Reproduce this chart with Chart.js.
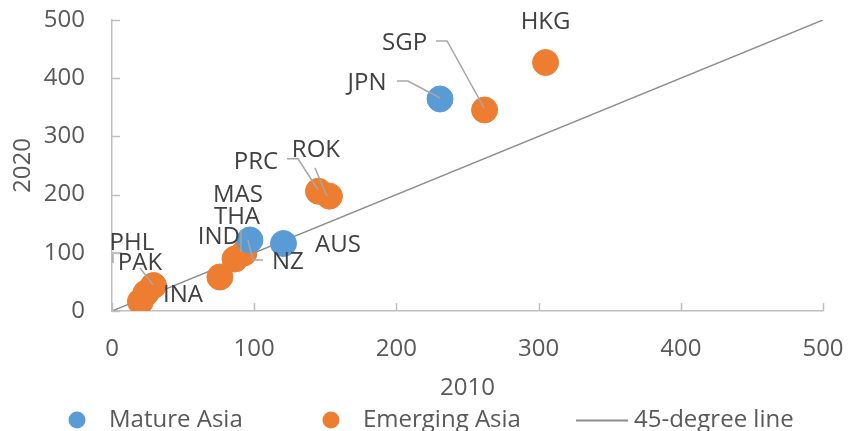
<!DOCTYPE html>
<html>
<head>
<meta charset="utf-8">
<script src="https://cdn.jsdelivr.net/npm/chart.js@4.4.1/dist/chart.umd.min.js"></script>
<style>
  html, body { margin: 0; padding: 0; background: #ffffff; }
  #wrap { width: 848px; height: 431px; }
</style>
</head>
<body>
<div id="wrap"><canvas id="chart" width="848" height="431"></canvas></div>
<script>
// Economies, 2010 value (x) against 2020 value (y)
const matureCodes = ['JPN', 'AUS', 'NZ'];
const mature2010 = [230.7, 120.6, 97.0];
const mature2020 = [364.3, 116.0, 122.0];

const emergingCodes = ['HKG', 'SGP', 'ROK', 'PRC', 'MAS', 'THA', 'IND', 'PAK', 'INA', 'PHL'];
const emerging2010 = [304.9, 262.0, 152.9, 145.2, 92.8, 86.5, 75.9, 29.2, 23.9, 20.0];
const emerging2020 = [427.0, 345.4, 197.3, 205.8, 99.7, 89.3, 58.4, 43.8, 30.9, 16.3];

// End points of the 45-degree reference line
const diagonalEnds = [0, 500];

// Axis range and tick step
const axisMin = 0;
const axisMax = 500;
const axisStep = 100;

// Label placement around each marker (pixel offsets from the marker centre),
// with optional leader-line paths in the same offset space.
const labelLayout = {
  HKG: { dx: 0,     dy: -40 },
  SGP: { dx: -80,   dy: -67,   leader: [[-48.5, -69], [-37.5, -69], [-0.5, -2]] },
  JPN: { dx: -73,   dy: -16,   leader: [[-43, -18], [-32, -18], [0, -1]] },
  ROK: { dx: -13.5, dy: -46.5, leader: [[-14.5, -28.5], [-2.5, 0]] },
  PRC: { dx: -62.5, dy: -29.5, leader: [[-31.5, -32.5], [-20.5, -32.5], [-0.5, -1.5]] },
  MAS: { dx: -6,    dy: -58,   leader: [[-3, -23], [-3, -1]] },
  THA: { dx: 2,     dy: -42 },
  IND: { dx: -1,    dy: -40 },
  NZ:  { dx: 38,    dy: 22,    leader: [[13, 20], [3, 20], [-2, 0]] },
  AUS: { dx: 54.5,  dy: 1.5 },
  PHL: { dx: -8.5,  dy: -58.5, leader: [[-18.5, -48.5], [-27.5, -48.5], [-27.5, -38.5]] },
  PAK: { dx: -13.5, dy: -22.5, leader: [[-13.5, -17.5], [-0.5, -0.5]] },
  INA: { dx: 37,    dy: 2 }
};

const FONT = "'Open Sans', 'Noto Sans', sans-serif";
const TEXT_GREY = '#595959';
const LABEL_GREY = '#404040';
const AXIS_GREY = '#bfbfbf';

function toPoints(xs, ys, codes) {
  return xs.map((x, i) => ({ x: x, y: ys[i], code: codes[i] }));
}

// Small tick marks drawn on the inside of both axes
const insideTicks = {
  id: 'insideTicks',
  afterDraw(chart, args, opts) {
    const { ctx, chartArea } = chart;
    const xs = chart.scales.x, ys = chart.scales.y;
    ctx.save();
    ctx.strokeStyle = opts.color;
    ctx.lineWidth = opts.width;
    ctx.beginPath();
    xs.ticks.forEach(t => {
      const px = Math.round(xs.getPixelForValue(t.value)) + 0.5;
      ctx.moveTo(px, chartArea.bottom);
      ctx.lineTo(px, chartArea.bottom - opts.length);
    });
    ys.ticks.forEach(t => {
      const py = Math.round(ys.getPixelForValue(t.value)) + 0.5;
      ctx.moveTo(chartArea.left, py);
      ctx.lineTo(chartArea.left + opts.length, py);
    });
    ctx.stroke();
    ctx.restore();
  }
};

// Country codes beside the markers, with leader lines where set
const pointLabels = {
  id: 'pointLabels',
  afterDatasetsDraw(chart, args, opts) {
    const { ctx } = chart;
    ctx.save();
    chart.data.datasets.forEach((ds, di) => {
      if (ds.type === 'line') return;
      const meta = chart.getDatasetMeta(di);
      meta.data.forEach((el, i) => {
        const code = ds.data[i].code;
        const lay = labelLayout[code];
        if (!lay || !lay.leader) return;
        ctx.strokeStyle = opts.leaderColor;
        ctx.lineWidth = opts.leaderWidth;
        ctx.beginPath();
        lay.leader.forEach((p, k) => {
          const lx = el.x + p[0], ly = el.y + p[1];
          if (k === 0) ctx.moveTo(lx, ly); else ctx.lineTo(lx, ly);
        });
        ctx.stroke();
      });
    });
    ctx.font = opts.size + 'px ' + FONT;
    ctx.fillStyle = opts.color;
    ctx.textAlign = 'center';
    ctx.textBaseline = 'middle';
    chart.data.datasets.forEach((ds, di) => {
      if (ds.type === 'line') return;
      const meta = chart.getDatasetMeta(di);
      meta.data.forEach((el, i) => {
        const code = ds.data[i].code;
        const lay = labelLayout[code] || { dx: 0, dy: -30 };
        ctx.fillText(code, el.x + lay.dx, el.y + lay.dy);
      });
    });
    ctx.restore();
  }
};

// One-row legend in equal-width columns along the bottom
const legendRow = {
  id: 'legendRow',
  afterDraw(chart, args, opts) {
    const { ctx } = chart;
    ctx.save();
    ctx.font = opts.size + 'px ' + FONT;
    ctx.textBaseline = 'middle';
    ctx.textAlign = 'left';
    chart.data.datasets.forEach((ds, i) => {
      const x0 = opts.left + i * opts.column;
      if (ds.type === 'line') {
        ctx.strokeStyle = ds.borderColor;
        ctx.lineWidth = 2;
        ctx.beginPath();
        ctx.moveTo(x0, opts.y + 0.5);
        ctx.lineTo(x0 + opts.lineLength, opts.y + 0.5);
        ctx.stroke();
        ctx.fillStyle = opts.color;
        ctx.fillText(ds.label, x0 + opts.lineLength + 6, opts.y);
      } else {
        ctx.fillStyle = ds.backgroundColor;
        ctx.beginPath();
        ctx.arc(x0 + 9, opts.y, opts.dot, 0, Math.PI * 2);
        ctx.fill();
        ctx.fillStyle = opts.color;
        ctx.fillText(ds.label, x0 + 41, opts.y);
      }
    });
    ctx.restore();
  }
};

Chart.defaults.font.family = FONT;
Chart.defaults.font.size = 24;
Chart.defaults.color = TEXT_GREY;

new Chart(document.getElementById('chart'), {
  type: 'scatter',
  data: {
    datasets: [
      {
        label: 'Mature Asia',
        data: toPoints(mature2010, mature2020, matureCodes),
        backgroundColor: '#5b9bd5',
        borderColor: '#5b9bd5',
        borderWidth: 1,
        pointRadius: 13,
        order: 1
      },
      {
        label: 'Emerging Asia',
        data: toPoints(emerging2010, emerging2020, emergingCodes),
        backgroundColor: '#ed7d31',
        borderColor: '#ed7d31',
        borderWidth: 1,
        pointRadius: 13,
        order: 2
      },
      {
        label: '45-degree line',
        type: 'line',
        data: diagonalEnds.map(v => ({ x: v, y: v })),
        borderColor: '#8c8c8c',
        borderWidth: 1.5,
        pointRadius: 0,
        fill: false,
        order: 3
      }
    ]
  },
  options: {
    responsive: false,
    animation: false,
    devicePixelRatio: 1,
    layout: { padding: { left: 0, right: 25, top: 20, bottom: 0 } },
    plugins: {
      legend: { display: false },
      tooltip: { enabled: false },
      insideTicks: { color: AXIS_GREY, width: 1.5, length: 8 },
      pointLabels: { color: LABEL_GREY, size: 24, leaderColor: '#a6a6a6', leaderWidth: 1.5 },
      legendRow: { left: 68, column: 254, y: 420, size: 24, dot: 8.5, lineLength: 52, color: TEXT_GREY }
    },
    scales: {
      x: {
        type: 'linear',
        min: axisMin,
        max: axisMax,
        ticks: { stepSize: axisStep, padding: 24, color: TEXT_GREY, font: { size: 24 } },
        grid: { display: true, drawOnChartArea: false, drawTicks: false, color: AXIS_GREY },
        border: { display: true, color: AXIS_GREY, width: 1.5 },
        title: { display: true, text: '2010', color: TEXT_GREY, font: { size: 24 }, padding: { top: 28, bottom: 28 } },
        afterFit(scale) {
          scale.height = 120;
          scale.paddingLeft = 0;
          scale.paddingRight = 0;
        }
      },
      y: {
        type: 'linear',
        min: axisMin,
        max: axisMax,
        ticks: { stepSize: axisStep, padding: 27, color: TEXT_GREY, font: { size: 24 } },
        grid: { display: true, drawOnChartArea: false, drawTicks: false, color: AXIS_GREY },
        border: { display: true, color: AXIS_GREY, width: 1.5 },
        title: { display: true, text: '2020', color: TEXT_GREY, font: { size: 24 }, padding: { top: 9, bottom: 9 } },
        afterFit(scale) {
          scale.width = 112;
          scale.paddingTop = 0;
          scale.paddingBottom = 0;
        }
      }
    }
  },
  plugins: [insideTicks, pointLabels, legendRow]
});
</script>
</body>
</html>
